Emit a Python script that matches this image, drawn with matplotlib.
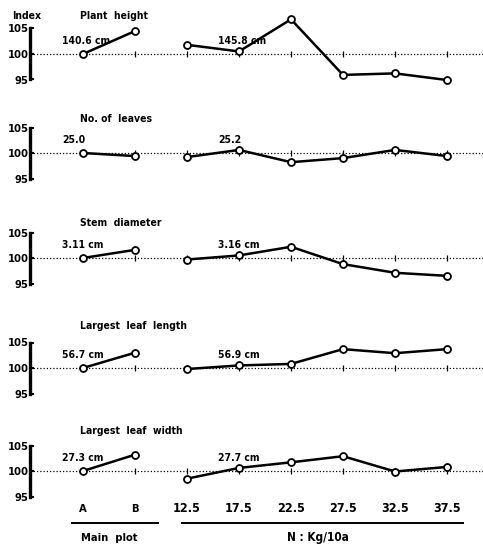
import matplotlib
matplotlib.use('Agg')
import matplotlib.pyplot as plt
from matplotlib.lines import Line2D
from matplotlib.transforms import blended_transform_factory

plt.rcParams['font.family'] = ['DejaVu Sans']

# ---- data ----
main_cats = ['A', 'B']
n_cats = ['12.5', '17.5', '22.5', '27.5', '32.5', '37.5']
titles = ['Plant  height', 'No. of  leaves', 'Stem  diameter',
          'Largest  leaf  length', 'Largest  leaf  width']
main_base_labels = ['140.6 cm', '25.0', '3.11 cm', '56.7 cm', '27.3 cm']
n_base_labels = ['145.8 cm', '25.2', '3.16 cm', '56.9 cm', '27.7 cm']

height_main = [100, 104.5]
height_n = [101.8, 100.5, 106.8, 95.9, 96.2, 94.9]
leaves_main = [100, 99.4]
leaves_n = [99.2, 100.6, 98.2, 99.0, 100.6, 99.4]
stem_main = [100, 101.6]
stem_n = [99.7, 100.5, 102.2, 98.8, 97.1, 96.5]
length_main = [100, 103.0]
length_n = [99.8, 100.5, 100.8, 103.7, 102.9, 103.7]
width_main = [100, 103.2]
width_n = [98.5, 100.6, 101.7, 102.9, 99.9, 100.8]

main_series = [height_main, leaves_main, stem_main, length_main, width_main]
n_series = [height_n, leaves_n, stem_n, length_n, width_n]

# ---- layout ----
W, H = 483, 548
fig = plt.figure(figsize=(W / 100, H / 100), dpi=100)
fig.patch.set_facecolor('white')

X0, DX = 83, 52
AX_LEFT = 30
xpos_main = list(range(len(main_cats)))
xpos_n = [len(main_cats) + i for i in range(len(n_cats))]
xlim = ((AX_LEFT - X0) / DX, (W - X0) / DX)
centers = [54, 153, 258, 368, 471]
title_y = [16, 119, 223, 326, 431]
S = 5.1
YLO, YHI = 92, 109.5

FONT = dict(family='DejaVu Sans', fontstretch='condensed', fontweight='bold')

def fx(px):
    return px / W

def fy(py):
    return 1 - py / H

axes = []
for i in range(5):
    c = centers[i]
    top_px = c - (YHI - 100) * S
    bot_px = c + (100 - YLO) * S
    ax = fig.add_axes([fx(AX_LEFT), fy(bot_px), (W - AX_LEFT) / W, (bot_px - top_px) / H])
    ax.set_xlim(xlim)
    ax.set_ylim(YLO, YHI)
    ax.patch.set_alpha(0)
    ax.axhline(100, ls=(0, (1, 1.6)), lw=0.9, color='k', zorder=1)
    ax.plot(xpos_main + xpos_n, [100] * (len(xpos_main) + len(xpos_n)),
            marker='|', ls='none', ms=4, mew=0.9, color='k', zorder=1)
    for xs, ys in ((xpos_main, main_series[i]), (xpos_n, n_series[i])):
        ax.plot(xs, ys, '-o', color='k', lw=1.8, mfc='white', mec='k',
                mew=1.3, ms=5, zorder=3)
    for side in ('top', 'right', 'bottom'):
        ax.spines[side].set_visible(False)
    ax.spines['left'].set_bounds(95, 105)
    ax.spines['left'].set_linewidth(2.4)
    ax.set_yticks([95, 100, 105])
    ax.set_yticklabels(['95', '100', '105'], **FONT)
    ax.tick_params(axis='y', direction='in', length=3, width=1.5, labelsize=8, pad=1)
    ax.set_xticks([])
    ax.annotate(main_base_labels[i], xy=(xpos_main[0], 100), xytext=(-21, 13),
                textcoords='offset pixels', ha='left', va='center', fontsize=7.5, **FONT)
    ax.annotate(n_base_labels[i], xy=(xpos_n[1], 100), xytext=(-21, 13),
                textcoords='offset pixels', ha='left', va='center', fontsize=7.5, **FONT)
    fig.text(fx(80), fy(title_y[i]), titles[i], ha='left', va='center', fontsize=7.5, **FONT)
    axes.append(ax)

fig.text(fx(12), fy(16), 'Index', ha='left', va='center', fontsize=7.5, **FONT)

# bottom category labels
bax = axes[-1]
tr = blended_transform_factory(bax.transData, fig.transFigure)
for x, lab in zip(xpos_main, main_cats):
    bax.text(x, fy(509), lab, transform=tr, ha='center', va='center', fontsize=8, **FONT)
for x, lab in zip(xpos_n, n_cats):
    bax.text(x, fy(509), lab, transform=tr, ha='center', va='center', fontsize=9, **FONT)

fig.add_artist(Line2D([fx(72), fx(158)], [fy(523), fy(523)], color='k', lw=1.4))
fig.add_artist(Line2D([fx(182), fx(463)], [fy(523), fy(523)], color='k', lw=1.4))
fig.text(fx(109), fy(538), 'Main  plot', ha='center', va='center', fontsize=8, **FONT)
fig.text(fx(318), fy(538), 'N : Kg/10a', ha='center', va='center', fontsize=8.5, **FONT)

fig.savefig('out.png', dpi=100)
